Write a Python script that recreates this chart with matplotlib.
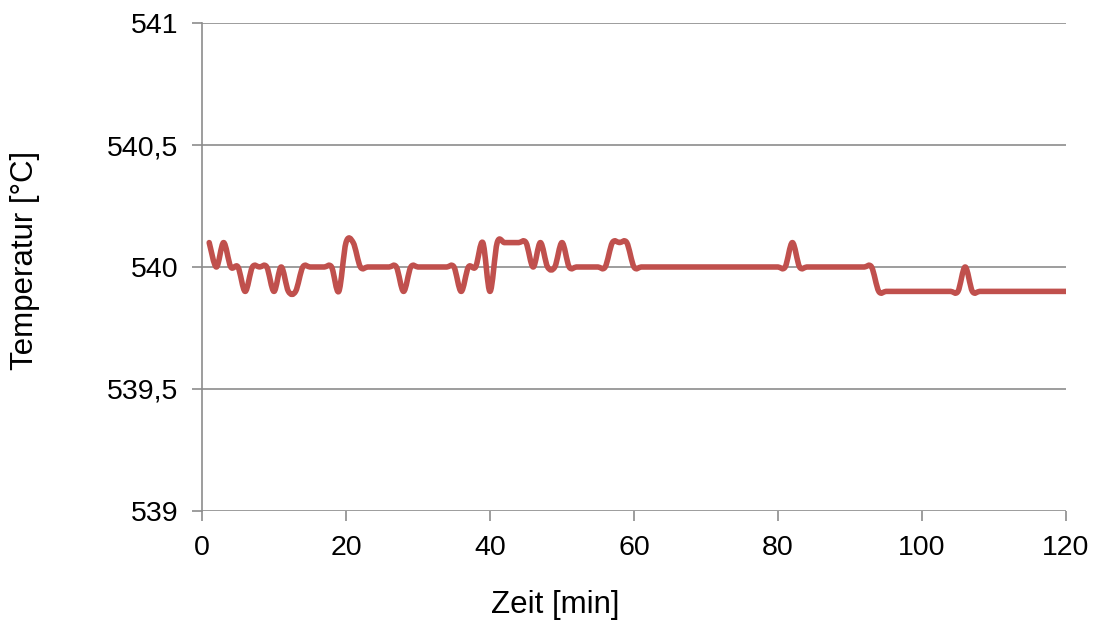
import numpy as np
import matplotlib
matplotlib.use("Agg")
import matplotlib.pyplot as plt
from matplotlib.path import Path
from matplotlib.patches import PathPatch
from matplotlib.ticker import FuncFormatter

# Temperatur pro Minute (1..120)
zeit = list(range(1, 121))
temperatur = [
    540.1, 540.0, 540.1, 540.0, 540.0, 539.9, 540.0, 540.0, 540.0, 539.9,
    540.0, 539.9, 539.9, 540.0, 540.0, 540.0, 540.0, 540.0, 539.9, 540.1,
    540.1, 540.0, 540.0, 540.0, 540.0, 540.0, 540.0, 539.9, 540.0, 540.0,
    540.0, 540.0, 540.0, 540.0, 540.0, 539.9, 540.0, 540.0, 540.1, 539.9,
    540.1, 540.1, 540.1, 540.1, 540.1, 540.0, 540.1, 540.0, 540.0, 540.1,
    540.0, 540.0, 540.0, 540.0, 540.0, 540.0, 540.1, 540.1, 540.1, 540.0,
    540.0, 540.0, 540.0, 540.0, 540.0, 540.0, 540.0, 540.0, 540.0, 540.0,
    540.0, 540.0, 540.0, 540.0, 540.0, 540.0, 540.0, 540.0, 540.0, 540.0,
    540.0, 540.1, 540.0, 540.0, 540.0, 540.0, 540.0, 540.0, 540.0, 540.0,
    540.0, 540.0, 540.0, 539.9, 539.9, 539.9, 539.9, 539.9, 539.9, 539.9,
    539.9, 539.9, 539.9, 539.9, 539.9, 540.0, 539.9, 539.9, 539.9, 539.9,
    539.9, 539.9, 539.9, 539.9, 539.9, 539.9, 539.9, 539.9, 539.9, 539.9,
]

plt.rcParams["font.family"] = ["Liberation Sans", "DejaVu Sans"]

fig = plt.figure(figsize=(11.02, 6.22), dpi=100)
ax = fig.add_axes([0.1833, 0.1785, 0.7840, 0.7845])

# smoothed line like Excel (Bezier through the data points)
x = np.array(zeit, dtype=float)
y = np.array(temperatur)
verts = [(x[0], y[0])]
codes = [Path.MOVETO]
n = len(x)
for i in range(n - 1):
    x0, y0 = (x[i - 1], y[i - 1]) if i > 0 else (x[i], y[i])
    x3, y3 = (x[i + 2], y[i + 2]) if i + 2 < n else (x[i + 1], y[i + 1])
    c1 = (x[i] + (x[i + 1] - x0) / 6, y[i] + (y[i + 1] - y0) / 6)
    c2 = (x[i + 1] - (x3 - x[i]) / 6, y[i + 1] - (y3 - y[i]) / 6)
    verts += [c1, c2, (x[i + 1], y[i + 1])]
    codes += [Path.CURVE4] * 3
ax.add_patch(PathPatch(Path(verts, codes), fill=False, edgecolor="#C0504D",
                       lw=4.0, capstyle="round", joinstyle="round", zorder=3))

ax.set_xlim(0, 120)
ax.set_ylim(539, 541)
ax.set_xticks(range(0, 121, 20))
ax.set_yticks([539, 539.5, 540, 540.5, 541])
ax.yaxis.set_major_formatter(FuncFormatter(lambda v, p: f"{v:g}".replace(".", ",")))

ax.grid(axis="y", color="#8C8C8C", lw=1.2)
ax.set_axisbelow(True)
for s in ["top", "right", "bottom"]:
    ax.spines[s].set_visible(False)
ax.spines["left"].set_color("#8C8C8C")
ax.spines["left"].set_linewidth(1.2)
ax.tick_params(axis="both", colors="#8C8C8C", labelcolor="black",
               labelsize=20.5, length=7, width=1.2)
ax.tick_params(axis="y", pad=10)
ax.tick_params(axis="x", pad=10)

# axis titles
fig.text(555 / 1102, 1 - 605 / 622, "Zeit [min]", fontsize=22.5,
         ha="center", va="center")
fig.text(25 / 1102, 1 - 260 / 622, "Temperatur [°C]", fontsize=22.5,
         ha="center", va="center", rotation=90)

fig.savefig("out.png", dpi=100)
